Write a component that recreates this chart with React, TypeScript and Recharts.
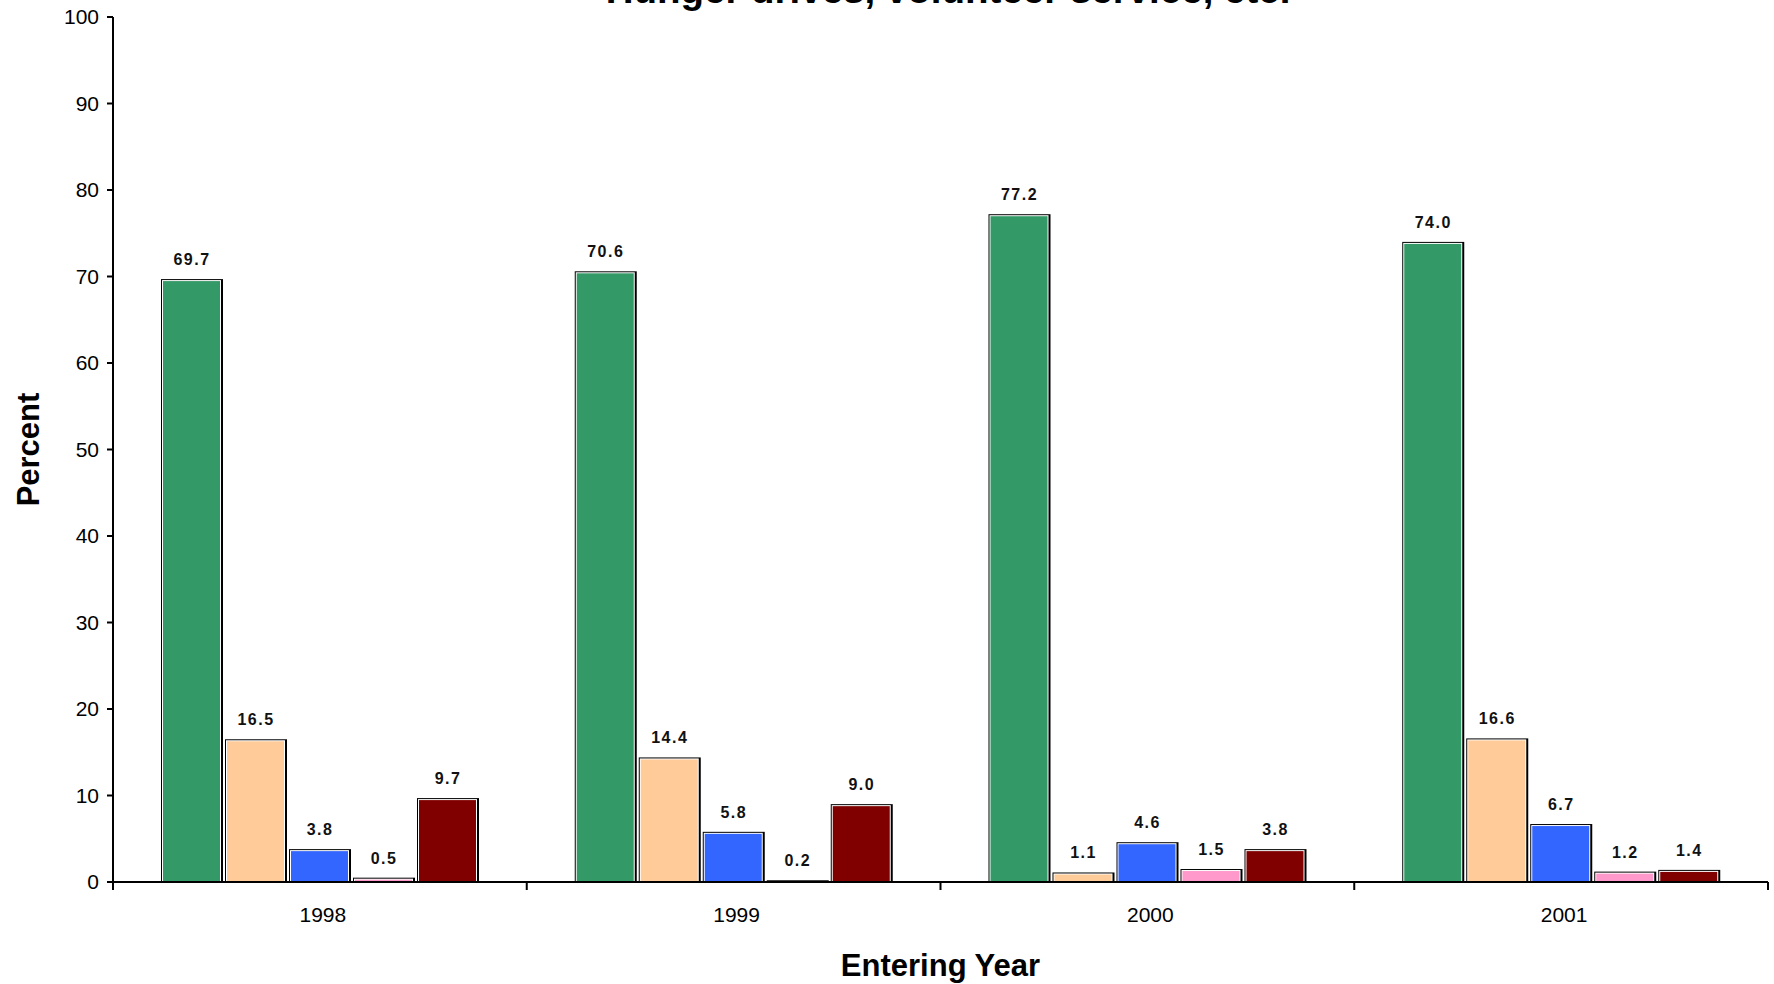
import React from "react";
import { BarChart, Bar, XAxis, YAxis, LabelList } from "recharts";

const years = ["1998", "1999", "2000", "2001"];
const seriesNames = ["Series 1", "Series 2", "Series 3", "Series 4", "Series 5"];
const seriesColors = ["#339966", "#FFCC99", "#3366FF", "#FF99CC", "#800000"];
const s1 = [69.7, 70.6, 77.2, 74.0];
const s2 = [16.5, 14.4, 1.1, 16.6];
const s3 = [3.8, 5.8, 4.6, 6.7];
const s4 = [0.5, 0.2, 1.5, 1.2];
const s5 = [9.7, 9.0, 3.8, 1.4];
const yTicks = [0, 10, 20, 30, 40, 50, 60, 70, 80, 90, 100];

const seriesValues = [s1, s2, s3, s4, s5];
const keys = ["s1", "s2", "s3", "s4", "s5"];

const data = years.map((year, i) => {
  const row: Record<string, string | number> = { year };
  keys.forEach((k, j) => {
    row[k] = seriesValues[j][i];
  });
  return row;
});

const FONT = '"Liberation Sans", Arial, sans-serif';

// excel-ish bar: black outline with a thin white inner edge
const OutlinedBar = (props: any) => {
  const { x, y, width, height, fill } = props;
  if (!height || height <= 0) return null;
  return (
    <g>
      <rect x={x} y={y} width={width} height={height} fill="#000" />
      <rect x={x + 1} y={y + 1} width={Math.max(width - 3, 0)} height={Math.max(height - 1, 0)} fill="#fff" />
      <rect x={x + 2} y={y + 2} width={Math.max(width - 5, 0)} height={Math.max(height - 2, 0)} fill={fill} />
    </g>
  );
};

// category tick: label in the middle, tick marks on the band edges
const YearTick = (props: any) => {
  const { x, y, payload, index } = props;
  const half = payload && payload.offset ? payload.offset : 206.9;
  return (
    <g>
      <line x1={x - half} y1={y} x2={x - half} y2={y + 8} stroke="#000" strokeWidth={2} />
      {index === years.length - 1 && (
        <line x1={x + half} y1={y} x2={x + half} y2={y + 8} stroke="#000" strokeWidth={2} />
      )}
      <text x={x + 3} y={y + 40} textAnchor="middle" fontSize={21} fontFamily={FONT} fill="#000">
        {payload.value}
      </text>
    </g>
  );
};

const App: React.FC = () => {
  return (
    <div style={{ position: "absolute", left: 0, top: 0, width: 1774, height: 984, overflow: "hidden", background: "#fff" }}>
      <div
        style={{
          position: "absolute",
          left: 948,
          top: -29,
          transform: "translateX(-50%)",
          whiteSpace: "nowrap",
          fontFamily: FONT,
          fontWeight: "bold",
          fontSize: 38.5,
          lineHeight: "38px",
          color: "#000",
        }}
      >
        Hunger drives, volunteer service, etc.
      </div>
      <BarChart
        width={1774}
        height={984}
        data={data}
        margin={{ top: 17, right: 6, left: 0, bottom: 0 }}
        barCategoryGap={48}
        barGap={2}
      >
        <XAxis
          dataKey="year"
          height={102}
          tickLine={false}
          tickSize={0}
          tickMargin={0}
          axisLine={{ stroke: "#000", strokeWidth: 2 }}
          tick={<YearTick />}
          interval={0}
          label={{
            value: "Entering Year",
            position: "insideBottom",
            offset: 8,
            style: { fontFamily: FONT, fontWeight: "bold", fontSize: 31, fill: "#000" },
          }}
        />
        <YAxis
          width={113}
          domain={[0, 100]}
          ticks={yTicks}
          interval={0}
          tickSize={6}
          tickMargin={8}
          axisLine={{ stroke: "#000", strokeWidth: 2 }}
          tickLine={{ stroke: "#000", strokeWidth: 2 }}
          tick={{ fontFamily: FONT, fontSize: 21, fill: "#000" }}
          label={{
            value: "Percent",
            angle: -90,
            position: "insideLeft",
            offset: 28,
            style: { fontFamily: FONT, fontWeight: "bold", fontSize: 31, fill: "#000", textAnchor: "middle" },
          }}
        />
        {keys.map((k, j) => (
          <Bar
            key={k}
            dataKey={k}
            name={seriesNames[j]}
            fill={seriesColors[j]}
            shape={<OutlinedBar />}
            isAnimationActive={false}
          >
            <LabelList
              dataKey={k}
              position="top"
              offset={14}
              formatter={(v: any) => Number(v).toFixed(1)}
              style={{ fontFamily: FONT, fontWeight: "bold", fontSize: 16, fill: "#111", letterSpacing: 1.5 }}
            />
          </Bar>
        ))}
      </BarChart>
    </div>
  );
};

export default App;
